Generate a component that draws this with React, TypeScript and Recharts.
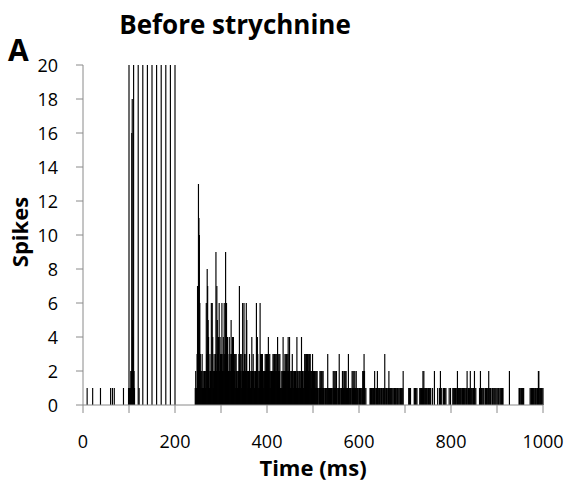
import React from 'react';
import { BarChart, Bar, XAxis, YAxis } from 'recharts';

// Pre-stimulus and early response (sparse): time (ms) and spike count
const preTimes = [9, 21, 38, 60, 64, 68, 88, 99, 101, 103, 104, 105, 106, 107, 108, 109, 111, 112, 122];
const preCounts = [1, 1, 1, 1, 1, 1, 1, 1, 1, 1, 2, 2, 16, 18, 5, 4, 2, 1, 1];

// Stimulus artifact bins (clipped at the top of the axis)
const artifactTimes = [100, 110, 120, 130, 140, 150, 160, 170, 180, 190, 200];
const artifactCount = 20;

// Dense response, one value per ms
const resp240 = [
  0, 0, 0, 0, 1, 2, 1, 1, 3, 7,
  2, 13, 11, 10, 6, 3, 2, 1, 2, 3,
  1, 2, 1, 2, 2, 1, 2, 1, 6, 3,
  8, 7, 5, 4, 2, 1, 3, 2, 2, 6,
  2, 6, 4, 1, 2, 3, 2, 1, 3, 9,
  2, 7, 5, 3, 4, 4, 6, 2, 4, 3,
];
const resp300 = [
  2, 3, 6, 2, 3, 4, 2, 6, 3, 2,
  9, 3, 6, 4, 4, 3, 2, 2, 4, 2,
  3, 2, 5, 3, 2, 4, 3, 4, 2, 3,
  2, 3, 1, 3, 2, 2, 1, 2, 2, 3,
  7, 2, 3, 2, 3, 1, 2, 6, 2, 2,
  6, 3, 2, 2, 3, 6, 5, 2, 2, 1,
  2, 2, 3, 2, 1, 2, 2, 4, 2, 2,
  3, 2, 2, 1, 2, 2, 2, 6, 4, 4,
  3, 1, 2, 1, 2, 6, 3, 2, 3, 2,
  3, 2, 2, 1, 2, 2, 3, 2, 3, 3,
];
const resp400 = [
  2, 3, 2, 4, 3, 2, 3, 1, 2, 2,
  2, 1, 2, 3, 2, 3, 3, 2, 3, 2,
  3, 2, 3, 4, 3, 2, 3, 2, 3, 1,
  1, 2, 1, 1, 2, 4, 2, 1, 2, 3,
  2, 3, 3, 2, 3, 2, 4, 2, 3, 4,
  2, 1, 2, 2, 1, 3, 2, 2, 1, 2,
  2, 1, 2, 2, 1, 4, 2, 1, 2, 1,
  1, 2, 2, 1, 2, 4, 2, 2, 1, 1,
  2, 2, 3, 3, 2, 3, 3, 2, 3, 3,
  2, 3, 3, 2, 3, 2, 1, 2, 1, 3,
];
const late500 = [
  1, 2, 1, 2, 2, 1, 2, 2, 1, 2,
  1, 1, 0, 1, 1, 2, 1, 2, 2, 1,
  2, 1, 2, 1, 1, 0, 1, 1, 1, 1,
  0, 1, 3, 1, 1, 0, 1, 1, 1, 0,
  1, 1, 0, 1, 2, 1, 2, 1, 2, 1,
  2, 2, 1, 0, 1, 1, 1, 3, 1, 1,
  0, 1, 1, 0, 2, 1, 1, 2, 1, 2,
  2, 1, 2, 1, 0, 1, 1, 3, 1, 1,
  0, 1, 1, 1, 0, 2, 1, 2, 1, 2,
  1, 2, 1, 1, 2, 1, 0, 1, 1, 0,
];
const late600 = [
  1, 1, 0, 1, 1, 0, 1, 1, 2, 1,
  2, 3, 2, 1, 0, 1, 0, 0, 0, 0,
  0, 0, 0, 0, 1, 1, 0, 1, 1, 1,
  0, 1, 1, 1, 2, 1, 0, 1, 1, 0,
  2, 1, 1, 0, 1, 1, 1, 0, 1, 1,
  1, 0, 1, 1, 0, 1, 3, 1, 0, 1,
  1, 1, 0, 1, 1, 2, 1, 0, 1, 1,
  0, 1, 1, 0, 1, 0, 1, 1, 0, 1,
  1, 0, 1, 0, 1, 1, 0, 1, 0, 1,
  1, 0, 1, 1, 0, 1, 2, 0, 0, 0,
];
const late700 = [
  0, 0, 0, 0, 0, 0, 0, 0, 1, 0,
  1, 0, 1, 0, 0, 0, 0, 0, 0, 0,
  1, 1, 0, 1, 1, 0, 1, 0, 0, 0,
  0, 0, 1, 0, 1, 1, 1, 1, 1, 2,
  1, 2, 1, 0, 1, 1, 0, 1, 1, 0,
  1, 1, 0, 1, 0, 1, 1, 0, 0, 0,
  1, 0, 0, 0, 2, 0, 0, 0, 0, 0,
  0, 1, 0, 0, 0, 1, 0, 2, 0, 1,
  0, 0, 0, 1, 1, 0, 1, 1, 0, 1,
  0, 0, 0, 0, 0, 0, 1, 0, 0, 1,
];
const late800 = [
  0, 0, 0, 0, 1, 1, 0, 1, 1, 0,
  1, 1, 0, 1, 2, 1, 1, 0, 1, 1,
  0, 1, 1, 0, 1, 1, 0, 1, 1, 1,
  0, 1, 0, 1, 1, 2, 0, 1, 1, 0,
  1, 0, 2, 1, 0, 1, 1, 0, 1, 1,
  0, 2, 1, 0, 1, 0, 0, 0, 0, 0,
  0, 0, 1, 0, 2, 0, 1, 1, 0, 1,
  0, 1, 0, 0, 1, 1, 0, 1, 0, 1,
  0, 1, 2, 0, 1, 0, 1, 1, 0, 0,
  1, 0, 1, 0, 0, 1, 1, 0, 1, 0,
];
const late900 = [
  1, 0, 1, 1, 0, 0, 1, 0, 1, 0,
  1, 0, 1, 1, 0, 0, 0, 0, 0, 0,
  0, 0, 0, 0, 0, 0, 0, 2, 0, 0,
  0, 0, 0, 0, 0, 0, 0, 0, 0, 0,
  0, 0, 0, 0, 0, 0, 0, 0, 1, 1,
  1, 0, 1, 1, 0, 1, 1, 1, 1, 0,
  0, 0, 0, 0, 0, 0, 0, 0, 0, 0,
  0, 0, 1, 0, 1, 1, 0, 1, 0, 1,
  1, 0, 1, 0, 1, 1, 0, 1, 1, 0,
  2, 2, 1, 0, 1, 1, 0, 1, 1, 0, 1,
];

const segments: [number, number[]][] = [
  [240, resp240], [300, resp300], [400, resp400], [500, late500],
  [600, late600], [700, late700], [800, late800], [900, late900],
];

const xTicks = [0, 100, 200, 300, 400, 500, 600, 700, 800, 900, 1000];
const yTicks = [0, 2, 4, 6, 8, 10, 12, 14, 16, 18, 20];

function buildData() {
  const counts: number[] = new Array(1001).fill(0);
  preTimes.forEach((t, i) => { counts[t] = preCounts[i]; });
  artifactTimes.forEach((t) => { counts[t] = artifactCount; });
  segments.forEach(([start, arr]) => arr.forEach((v, i) => { counts[start + i] = v; }));
  return counts.map((c, t) => ({ t, spikes: c }));
}
const data = buildData();

const FONT = '"Open Sans", sans-serif';
const AXIS = '#8a8a8a';
const LINE_W = 1.15;

const YTick = (props: any) => {
  const { y, payload } = props;
  return (
    <text x={58} y={y} dy={6.5} textAnchor="end" fontFamily={FONT} fontSize={18} fill="#000">
      {payload.value}
    </text>
  );
};

const XTick = (props: any) => {
  const { x, payload } = props;
  if (payload.value % 200 !== 0) return <g />;
  return (
    <text x={x} y={448} textAnchor="middle" fontFamily={FONT} fontSize={18} fill="#000">
      {payload.value}
    </text>
  );
};

const SpikeBar = (props: any) => {
  const { x, y, width, height } = props;
  if (!height || height <= 0) return <g />;
  const cx = x + width / 2;
  return <rect x={cx - LINE_W / 2} y={y} width={LINE_W} height={height} fill="#000" />;
};

export default function App() {
  return (
    <div style={{ position: 'absolute', left: 0, top: 0, width: 571, height: 491, background: '#fff' }}>
      <BarChart
        width={571}
        height={491}
        data={data}
        margin={{ top: 65, right: 28, bottom: 0, left: 0 }}
        barGap={0}
        barCategoryGap={0}
      >
        <XAxis
          dataKey="t"
          type="number"
          domain={[0, 1000]}
          ticks={xTicks}
          interval={0}
          height={86}
          stroke={AXIS}
          tickSize={8}
          tick={<XTick />}
          label={{
            value: 'Time (ms)',
            content: () => (
              <text x={313} y={476} textAnchor="middle" fontFamily={FONT} fontWeight="bold" fontSize={22} fill="#000">
                Time (ms)
              </text>
            ),
          }}
        />
        <YAxis
          type="number"
          domain={[0, 20]}
          ticks={yTicks}
          interval={0}
          allowDataOverflow
          width={83}
          stroke={AXIS}
          tickSize={7}
          tick={<YTick />}
          label={{
            value: 'Spikes',
            content: () => (
              <text
                x={28}
                y={232}
                transform="rotate(-90 28 232)"
                textAnchor="middle"
                fontFamily={FONT}
                fontWeight="bold"
                fontSize={22}
                fill="#000"
              >
                Spikes
              </text>
            ),
          }}
        />
        <Bar dataKey="spikes" fill="#000" isAnimationActive={false} shape={<SpikeBar />} />
      </BarChart>
      <svg width={571} height={491} style={{ position: 'absolute', left: 0, top: 0, pointerEvents: 'none' }}>
        <text x={235} y={34} textAnchor="middle" fontFamily={FONT} fontWeight="bold" fontSize={26} fill="#000">
          Before strychnine
        </text>
        <text x={8} y={61} fontFamily={FONT} fontWeight="bold" fontSize={30} fill="#000">
          A
        </text>
      </svg>
    </div>
  );
}
